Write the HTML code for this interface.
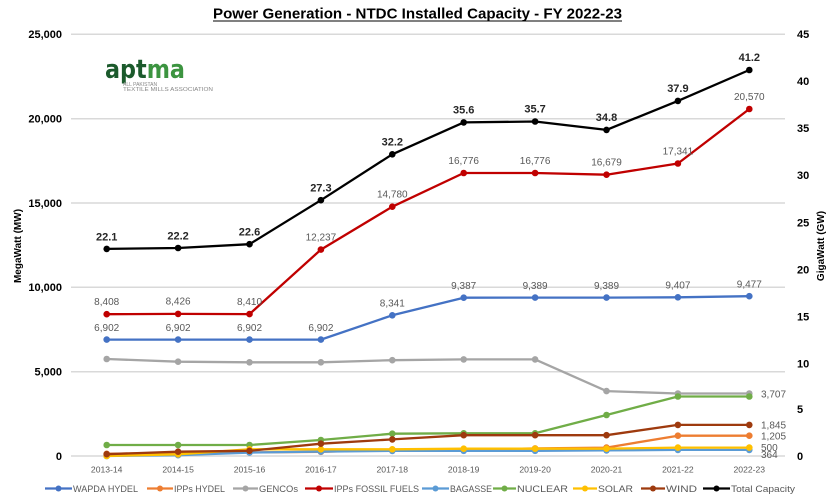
<!DOCTYPE html>
<html>
<head>
<meta charset="utf-8">
<style>
  html,body{margin:0;padding:0;background:#fff;}
  svg{display:block;font-family:"Liberation Sans",sans-serif;}
</style>
</head>
<body>
<svg width="840" height="500" viewBox="0 0 840 500" xmlns="http://www.w3.org/2000/svg">
  <defs>
    <marker id="mBlue" markerUnits="userSpaceOnUse" markerWidth="10" markerHeight="10" refX="5" refY="5"><circle cx="5" cy="5" r="3.3" fill="#4472c4"/></marker>
    <marker id="mOrange" markerUnits="userSpaceOnUse" markerWidth="10" markerHeight="10" refX="5" refY="5"><circle cx="5" cy="5" r="3.3" fill="#ed7d31"/></marker>
    <marker id="mGray" markerUnits="userSpaceOnUse" markerWidth="10" markerHeight="10" refX="5" refY="5"><circle cx="5" cy="5" r="3.3" fill="#a5a5a5"/></marker>
    <marker id="mRed" markerUnits="userSpaceOnUse" markerWidth="10" markerHeight="10" refX="5" refY="5"><circle cx="5" cy="5" r="3.3" fill="#c00000"/></marker>
    <marker id="mLBlue" markerUnits="userSpaceOnUse" markerWidth="10" markerHeight="10" refX="5" refY="5"><circle cx="5" cy="5" r="3.3" fill="#5b9bd5"/></marker>
    <marker id="mGreen" markerUnits="userSpaceOnUse" markerWidth="10" markerHeight="10" refX="5" refY="5"><circle cx="5" cy="5" r="3.3" fill="#70ad47"/></marker>
    <marker id="mYellow" markerUnits="userSpaceOnUse" markerWidth="10" markerHeight="10" refX="5" refY="5"><circle cx="5" cy="5" r="3.3" fill="#ffc000"/></marker>
    <marker id="mBrown" markerUnits="userSpaceOnUse" markerWidth="10" markerHeight="10" refX="5" refY="5"><circle cx="5" cy="5" r="3.3" fill="#9e3a0e"/></marker>
    <marker id="mBlack" markerUnits="userSpaceOnUse" markerWidth="10" markerHeight="10" refX="5" refY="5"><circle cx="5" cy="5" r="3.3" fill="#000"/></marker>
  </defs>

  <!-- Title -->
  <text x="417.5" y="18.5" text-anchor="middle" font-size="15" font-weight="bold" fill="#000" textLength="409" lengthAdjust="spacingAndGlyphs">Power Generation - NTDC Installed Capacity - FY 2022-23</text>
  <line x1="213" y1="21" x2="622" y2="21" stroke="#000" stroke-width="1"/>

  <!-- Gridlines -->
  <g stroke="#d9d9d9" stroke-width="1.5">
    <line x1="71" y1="34.3" x2="785" y2="34.3"/>
    <line x1="71" y1="118.7" x2="785" y2="118.7"/>
    <line x1="71" y1="203" x2="785" y2="203"/>
    <line x1="71" y1="287.3" x2="785" y2="287.3"/>
    <line x1="71" y1="371.7" x2="785" y2="371.7"/>
    <line x1="71" y1="456" x2="785" y2="456"/>
  </g>

  <!-- Left axis labels -->
  <g font-size="11" font-weight="bold" fill="#000" text-anchor="end">
    <text x="62" y="38">25,000</text>
    <text x="62" y="122.5">20,000</text>
    <text x="62" y="207">15,000</text>
    <text x="62" y="291">10,000</text>
    <text x="62" y="375.5">5,000</text>
    <text x="62" y="460">0</text>
  </g>
  <text transform="translate(21,246) rotate(-90)" text-anchor="middle" font-size="10" font-weight="bold" fill="#000">MegaWatt (MW)</text>

  <!-- Right axis labels -->
  <g font-size="11" font-weight="bold" fill="#000" text-anchor="start">
    <text x="797" y="38">45</text>
    <text x="797" y="85">40</text>
    <text x="797" y="132">35</text>
    <text x="797" y="179">30</text>
    <text x="797" y="226.5">25</text>
    <text x="797" y="273.5">20</text>
    <text x="797" y="320.5">15</text>
    <text x="797" y="367.5">10</text>
    <text x="797" y="413">5</text>
    <text x="797" y="460">0</text>
  </g>
  <text transform="translate(824,246) rotate(-90)" text-anchor="middle" font-size="10" font-weight="bold" fill="#000">GigaWatt (GW)</text>

  <!-- X labels -->
  <g font-size="8.6" fill="#595959" text-anchor="middle">
    <text x="106.7" y="472.5">2013-14</text>
    <text x="178.1" y="472.5">2014-15</text>
    <text x="249.5" y="472.5">2015-16</text>
    <text x="320.9" y="472.5">2016-17</text>
    <text x="392.3" y="472.5">2017-18</text>
    <text x="463.7" y="472.5">2018-19</text>
    <text x="535.1" y="472.5">2019-20</text>
    <text x="606.5" y="472.5">2020-21</text>
    <text x="677.9" y="472.5">2021-22</text>
    <text x="749.3" y="472.5">2022-23</text>
  </g>

  <!-- Logo -->
  <text x="105" y="78" font-family="'DejaVu Sans',sans-serif" font-size="26" font-weight="bold" textLength="80" lengthAdjust="spacingAndGlyphs"><tspan fill="#1b5a2c">apt</tspan><tspan fill="#3c9440">ma</tspan></text>
  <text x="123" y="86" font-size="5" fill="#888">ALL PAKISTAN</text>
  <text x="123" y="91" font-size="5" fill="#888" textLength="90" lengthAdjust="spacingAndGlyphs">TEXTILE MILLS ASSOCIATION</text>

  <!-- Series -->
  <g fill="none" stroke-width="2.3" stroke-linejoin="round" stroke-linecap="round">
    <polyline stroke="#4472c4" marker-start="url(#mBlue)" marker-mid="url(#mBlue)" marker-end="url(#mBlue)"
      points="106.7,339.6 178.1,339.6 249.5,339.6 320.9,339.6 392.3,315.3 463.7,297.7 535.1,297.6 606.5,297.6 677.9,297.3 749.3,296.2"/>
    <polyline stroke="#ed7d31" marker-start="url(#mOrange)" marker-mid="url(#mOrange)" marker-end="url(#mOrange)"
      points="106.7,453.8 178.1,452.7 249.5,452.4 320.9,451.8 392.3,449.6 463.7,449.6 535.1,448.4 606.5,447.6 677.9,435.7 749.3,435.7"/>
    <polyline stroke="#a5a5a5" marker-start="url(#mGray)" marker-mid="url(#mGray)" marker-end="url(#mGray)"
      points="106.7,359.0 178.1,361.7 249.5,362.3 320.9,362.3 392.3,360.2 463.7,359.4 535.1,359.4 606.5,391.1 677.9,393.5 749.3,393.5"/>
    <polyline stroke="#c00000" marker-start="url(#mRed)" marker-mid="url(#mRed)" marker-end="url(#mRed)"
      points="106.7,314.2 178.1,313.9 249.5,314.1 320.9,249.6 392.3,206.7 463.7,173.0 535.1,173.0 606.5,174.7 677.9,163.5 749.3,109.0"/>
    <polyline stroke="#5b9bd5" marker-start="url(#mLBlue)" marker-mid="url(#mLBlue)" marker-end="url(#mLBlue)"
      points="106.7,456 178.1,455.2 249.5,452.6 320.9,451.6 392.3,450.9 463.7,450.8 535.1,450.8 606.5,450.4 677.9,449.9 749.3,449.9"/>
    <polyline stroke="#70ad47" marker-start="url(#mGreen)" marker-mid="url(#mGreen)" marker-end="url(#mGreen)"
      points="106.7,445.0 178.1,445.0 249.5,445.0 320.9,440.0 392.3,433.7 463.7,433.3 535.1,433.3 606.5,415.0 677.9,396.5 749.3,396.5"/>
    <polyline stroke="#ffc000" marker-start="url(#mYellow)" marker-mid="url(#mYellow)" marker-end="url(#mYellow)"
      points="106.7,456 178.1,454.3 249.5,449.3 320.9,449.3 392.3,449.3 463.7,448.7 535.1,448.7 606.5,448.7 677.9,447.6 749.3,447.6"/>
    <polyline stroke="#9e3a0e" marker-start="url(#mBrown)" marker-mid="url(#mBrown)" marker-end="url(#mBrown)"
      points="106.7,454.2 178.1,451.7 249.5,450.8 320.9,443.7 392.3,439.4 463.7,435.2 535.1,435.2 606.5,435.2 677.9,424.9 749.3,424.9"/>
    <polyline stroke="#000" marker-start="url(#mBlack)" marker-mid="url(#mBlack)" marker-end="url(#mBlack)"
      points="106.7,248.9 178.1,248.0 249.5,244.2 320.9,200.2 392.3,154.3 463.7,122.4 535.1,121.5 606.5,129.9 677.9,100.9 749.3,70.0"/>
  </g>

  <!-- Total labels -->
  <g font-size="11" font-weight="bold" fill="#262626" text-anchor="middle">
    <text x="106.7" y="240.5">22.1</text>
    <text x="178.1" y="239.5">22.2</text>
    <text x="249.5" y="235.5">22.6</text>
    <text x="320.9" y="191.5">27.3</text>
    <text x="392.3" y="145.5">32.2</text>
    <text x="463.7" y="113.5">35.6</text>
    <text x="535.1" y="112.5">35.7</text>
    <text x="606.5" y="121">34.8</text>
    <text x="677.9" y="92">37.9</text>
    <text x="749.3" y="61">41.2</text>
  </g>

  <!-- Red labels -->
  <g font-size="10" fill="#595959" text-anchor="middle">
    <text x="106.7" y="305">8,408</text>
    <text x="178.1" y="304.5">8,426</text>
    <text x="249.5" y="305">8,410</text>
    <text x="320.9" y="240.5">12,237</text>
    <text x="392.3" y="197.5">14,780</text>
    <text x="463.7" y="164">16,776</text>
    <text x="535.1" y="164">16,776</text>
    <text x="606.5" y="165.5">16,679</text>
    <text x="677.9" y="154.5">17,341</text>
    <text x="749.3" y="100">20,570</text>
  </g>

  <!-- Blue labels -->
  <g font-size="10" fill="#595959" text-anchor="middle">
    <text x="106.7" y="331">6,902</text>
    <text x="178.1" y="331">6,902</text>
    <text x="249.5" y="331">6,902</text>
    <text x="320.9" y="331">6,902</text>
    <text x="392.3" y="306.5">8,341</text>
    <text x="463.7" y="289">9,387</text>
    <text x="535.1" y="289">9,389</text>
    <text x="606.5" y="289">9,389</text>
    <text x="677.9" y="288.5">9,407</text>
    <text x="749.3" y="287.5">9,477</text>
  </g>

  <!-- Right-end labels -->
  <g font-size="10" fill="#595959" text-anchor="start">
    <text x="761" y="397.5">3,707</text>
    <text x="761" y="428.5">1,845</text>
    <text x="761" y="439.5">1,205</text>
    <text x="761" y="451">500</text>
    <text x="761" y="458">364</text>
  </g>

  <!-- Legend -->
  <g stroke-width="2.3">
    <line x1="45" y1="488.5" x2="72" y2="488.5" stroke="#4472c4"/><circle cx="58.5" cy="488.5" r="3" fill="#4472c4"/>
    <line x1="147" y1="488.5" x2="173" y2="488.5" stroke="#ed7d31"/><circle cx="160" cy="488.5" r="3" fill="#ed7d31"/>
    <line x1="233" y1="488.5" x2="258" y2="488.5" stroke="#a5a5a5"/><circle cx="245.5" cy="488.5" r="3" fill="#a5a5a5"/>
    <line x1="305" y1="488.5" x2="333" y2="488.5" stroke="#c00000"/><circle cx="319" cy="488.5" r="3" fill="#c00000"/>
    <line x1="422" y1="488.5" x2="449" y2="488.5" stroke="#5b9bd5"/><circle cx="435.5" cy="488.5" r="3" fill="#5b9bd5"/>
    <line x1="493" y1="488.5" x2="516" y2="488.5" stroke="#70ad47"/><circle cx="504.5" cy="488.5" r="3" fill="#70ad47"/>
    <line x1="573" y1="488.5" x2="597" y2="488.5" stroke="#ffc000"/><circle cx="585" cy="488.5" r="3" fill="#ffc000"/>
    <line x1="641" y1="488.5" x2="665" y2="488.5" stroke="#9e3a0e"/><circle cx="653" cy="488.5" r="3" fill="#9e3a0e"/>
    <line x1="703" y1="488.5" x2="730" y2="488.5" stroke="#000"/><circle cx="716.5" cy="488.5" r="3" fill="#000"/>
  </g>
  <g font-size="9.5" fill="#595959">
    <text x="73" y="492" textLength="65" lengthAdjust="spacingAndGlyphs">WAPDA HYDEL</text>
    <text x="174" y="492" textLength="51" lengthAdjust="spacingAndGlyphs">IPPs HYDEL</text>
    <text x="259" y="492" textLength="39" lengthAdjust="spacingAndGlyphs">GENCOs</text>
    <text x="334" y="492" textLength="85" lengthAdjust="spacingAndGlyphs">IPPs FOSSIL FUELS</text>
    <text x="450" y="492" textLength="42" lengthAdjust="spacingAndGlyphs">BAGASSE</text>
    <text x="517" y="492" textLength="51" lengthAdjust="spacingAndGlyphs">NUCLEAR</text>
    <text x="598" y="492" textLength="35" lengthAdjust="spacingAndGlyphs">SOLAR</text>
    <text x="666" y="492" textLength="31" lengthAdjust="spacingAndGlyphs">WIND</text>
    <text x="731" y="492" textLength="64" lengthAdjust="spacingAndGlyphs">Total Capacity</text>
  </g>
</svg>
</body>
</html>
